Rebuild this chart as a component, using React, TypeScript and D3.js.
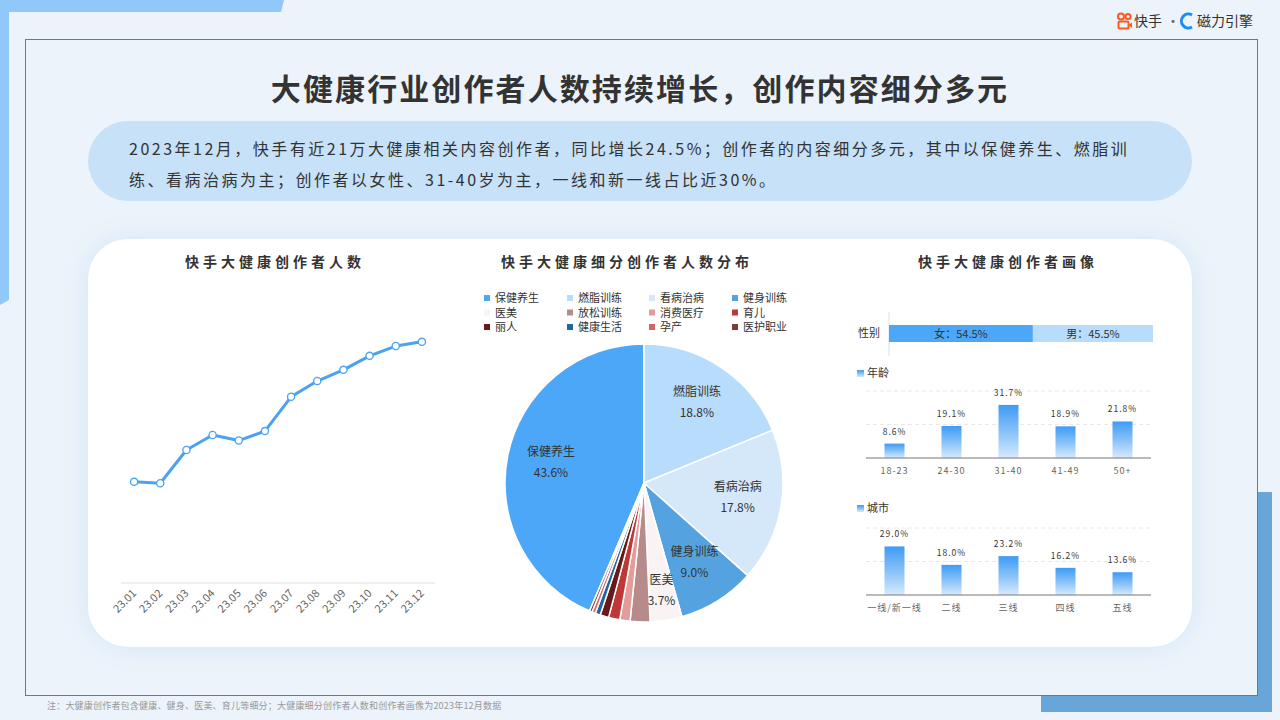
import React from 'react';
import * as d3 from 'd3';

const FONT = '"Noto Sans CJK SC","Noto Sans",sans-serif';

// ---- data ----
const months = ['23.01', '23.02', '23.03', '23.04', '23.05', '23.06', '23.07', '23.08', '23.09', '23.10', '23.11', '23.12'];
const creators = [16.89, 16.85, 17.8, 18.23, 18.07, 18.34, 19.32, 19.77, 20.09, 20.49, 20.77, 20.89];

const pieNames = ['保健养生', '燃脂训练', '看病治病', '健身训练', '医美', '放松训练', '消费医疗', '育儿', '丽人', '健康生活', '孕产', '医护职业'];
const pieValues = [43.6, 18.8, 17.8, 9.0, 3.7, 2.3, 1.2, 1.3, 1.0, 0.6, 0.4, 0.3];
const pieColors = ['#4DA7F8', '#B8DCFB', '#D5E8F9', '#54A3E0', '#FAF3F3', '#B88B8B', '#E29C9C', '#BF3838', '#6A1919', '#1F689E', '#D9616A', '#7A3B3B'];

const genderNames = ['女', '男'];
const genderValues = [54.5, 45.5];
const genderColors = ['#4DA7F8', '#B8DCFB'];

const ageCats = ['18-23', '24-30', '31-40', '41-49', '50+'];
const ageValues = [8.6, 19.1, 31.7, 18.9, 21.8];
const cityCats = ['一线/新一线', '二线', '三线', '四线', '五线'];
const cityValues = [29.0, 18.0, 23.2, 16.2, 13.6];
const barTicks = [20, 40];

const subtitle1 = '2023年12月，快手有近21万大健康相关内容创作者，同比增长24.5%；创作者的内容细分多元，其中以保健养生、燃脂训';
const subtitle2 = '练、看病治病为主；创作者以女性、31-40岁为主，一线和新一线占比近30%。';

function BarBlock({ cats, values, title, top, axisY }: { cats: string[]; values: number[]; title: string; top: number; axisY: number }) {
  const x = d3.scaleBand().domain(cats).range([866, 1151]);
  const y = d3.scaleLinear().domain([0, 40]).range([axisY, axisY - 67]);
  const bw = 20;
  return (
    <g>
      <rect x={857} y={top - 4} width={7} height={7} fill="url(#barGrad)" />
      <text x={867} y={top + 3} fontSize={11} fill="#333">{title}</text>
      {barTicks.map((t) => (
        <line key={t} x1={866} x2={1151} y1={y(t)} y2={y(t)} stroke="#E8E8E8" strokeDasharray="4,3" />
      ))}
      {values.map((v, i) => {
        const cx = x(cats[i])! + x.bandwidth() / 2;
        return (
          <g key={cats[i]}>
            <rect x={cx - bw / 2} y={y(v)} width={bw} height={axisY - y(v)} fill="url(#barGrad)" />
            <text x={cx} y={y(v) - 9} fontSize={8.5} letterSpacing={1} textAnchor="middle" fill="#333">{v.toFixed(1) + '%'}</text>
            <text x={cx} y={axisY + 16} fontSize={9} letterSpacing={1} textAnchor="middle" fill="#666">{cats[i]}</text>
          </g>
        );
      })}
      <line x1={866} x2={1151} y1={axisY} y2={axisY} stroke="#777" strokeWidth={1.2} />
    </g>
  );
}

export default function App() {
  // line chart
  const xl = d3.scaleBand().domain(months).range([121, 435]);
  const yl = d3.scaleLinear().domain([14, 21.6]).range([583, 317]);
  const px = (i: number) => xl(months[i])! + xl.bandwidth() / 2;
  const linePath = d3.line<number>().x((_, i) => px(i)).y((d) => yl(d))(creators) || '';

  // pie
  const total = d3.sum(pieValues);
  const start = -(pieValues[0] / total) * Math.PI * 2;
  const pie = d3.pie<number>().sort(null).startAngle(start).endAngle(start + Math.PI * 2);
  const arcs = pie(pieValues);
  const R = 139;
  const arc = d3.arc<d3.PieArcDatum<number>>().innerRadius(0).outerRadius(R);
  const labelArc = d3.arc<d3.PieArcDatum<number>>().innerRadius(95 * 2 - R).outerRadius(R);
  const smallLabelArc = d3.arc<d3.PieArcDatum<number>>().innerRadius(110 * 2 - R).outerRadius(R);
  const pcx = 644, pcy = 483;

  // gender
  const xg = d3.scaleLinear().domain([0, 100]).range([889, 1153]);
  let acc = 0;

  return (
    <svg width={1280} height={720} style={{ position: 'absolute', left: 0, top: 0, fontFamily: FONT }}>
      <defs>
        <linearGradient id="barGrad" x1="0" y1="0" x2="0" y2="1">
          <stop offset="0" stopColor="#3E9BF6" />
          <stop offset="0.55" stopColor="#8EC5F8" />
          <stop offset="1" stopColor="#D6EAFC" />
        </linearGradient>
        <filter id="shadow" x="-10%" y="-20%" width="120%" height="140%">
          <feGaussianBlur in="SourceAlpha" stdDeviation="12" result="b" />
          <feFlood floodColor="#CFE3F8" floodOpacity="0.9" />
          <feComposite in2="b" operator="in" result="s" />
          <feMerge><feMergeNode in="s" /><feMergeNode in="SourceGraphic" /></feMerge>
        </filter>
      </defs>

      {/* background */}
      <rect x={0} y={0} width={1280} height={720} fill="#ECF3FA" />
      <path d="M0,0 L284,0 L281,12 L9,12 L9,300 L0,305 Z" fill="#90C8FA" />
      <rect x={1041} y={492} width={231} height={220} fill="#68A6D9" />
      <rect x={25.5} y={39.5} width={1232} height={656} fill="#ECF3FA" stroke="#777" strokeWidth={1} />

      {/* logo */}
      <g>
        <circle cx={1121} cy={16.5} r={3} fill="none" stroke="#FE5A1E" strokeWidth={2} />
        <circle cx={1128} cy={16.5} r={2.6} fill="none" stroke="#FE5A1E" strokeWidth={2} />
        <rect x={1118.5} y={21.5} width={10} height={7} rx={1.5} fill="none" stroke="#FE5A1E" strokeWidth={2} />
        <path d="M1128.5,25 L1132,22.5 L1132,28 Z" fill="#FE5A1E" />
        <text x={1134} y={26} fontSize={14} fill="#333">快手</text>
        <text x={1166} y={26} fontSize={14} fill="#666">·</text>
        <path d="M1192,15 A7,7 0 1 0 1192,27" fill="none" stroke="#1E8CF0" strokeWidth={3} />
        <text x={1197} y={26} fontSize={14} fill="#333">磁力引擎</text>
      </g>

      {/* title */}
      <text x={640} y={100} fontSize={30} fontWeight={700} letterSpacing={2.1} textAnchor="middle" fill="#333">
        大健康行业创作者人数持续增长，创作内容细分多元
      </text>

      {/* subtitle pill */}
      <rect x={88} y={121} width={1104} height={80} rx={40} fill="#C6E1F8" />
      <text x={129} y={155} fontSize={16} letterSpacing={2.5} fill="#333">{subtitle1}</text>
      <text x={129} y={186} fontSize={16} letterSpacing={2.5} fill="#333">{subtitle2}</text>

      {/* white panel */}
      <rect x={88} y={239} width={1104} height={408} rx={40} fill="#FFFFFF" filter="url(#shadow)" />

      {/* panel titles */}
      <text x={275} y={267} fontSize={14} fontWeight={700} letterSpacing={4} textAnchor="middle" fill="#333">快手大健康创作者人数</text>
      <text x={627} y={267} fontSize={14} fontWeight={700} letterSpacing={4} textAnchor="middle" fill="#333">快手大健康细分创作者人数分布</text>
      <text x={1008} y={267} fontSize={14} fontWeight={700} letterSpacing={4} textAnchor="middle" fill="#333">快手大健康创作者画像</text>

      {/* line chart */}
      <line x1={121} x2={435} y1={583} y2={583} stroke="#E0E0E0" />
      <path d={linePath} fill="none" stroke="#4AA2F0" strokeWidth={3} strokeLinejoin="round" />
      {creators.map((d, i) => (
        <circle key={i} cx={px(i)} cy={yl(d)} r={3.6} fill="#fff" stroke="#4AA2F0" strokeWidth={1.3} />
      ))}
      {months.map((m, i) => (
        <text key={m} transform={`translate(${px(i) + 3},${594}) rotate(-45)`} fontSize={11} textAnchor="end" fill="#666">{m}</text>
      ))}

      {/* pie legend */}
      {pieNames.map((n, i) => {
        const col = i % 4, row = Math.floor(i / 4);
        const lx = [487, 570, 652, 735][col];
        const ly = 298 + row * 14.5;
        return (
          <g key={n}>
            <rect x={lx - 3} y={ly - 3} width={6} height={6} fill={pieColors[i]} />
            <text x={lx + 8} y={ly + 4} fontSize={11} fill="#333">{n}</text>
          </g>
        );
      })}

      {/* pie */}
      <g transform={`translate(${pcx},${pcy})`}>
        {arcs.map((a, i) => (
          <path key={i} d={arc(a) || ''} fill={pieColors[i]} stroke="#fff" strokeWidth={1.5} strokeLinejoin="round" />
        ))}
        {arcs.map((a, i) => {
          if (pieValues[i] < 3) return null;
          const [cx, cy] = (pieValues[i] < 5 ? smallLabelArc : labelArc).centroid(a);
          return (
            <g key={'l' + i}>
              <text x={cx} y={cy - 8} fontSize={12} textAnchor="middle" fill="#333">{pieNames[i]}</text>
              <text x={cx} y={cy + 13} fontSize={12} textAnchor="middle" fill="#333">{pieValues[i].toFixed(1) + '%'}</text>
            </g>
          );
        })}
      </g>

      {/* gender */}
      <text x={858} y={337} fontSize={11} fill="#333">性别</text>
      <line x1={889} x2={889} y1={312} y2={356} stroke="#E0E0E0" />
      {genderValues.map((v, i) => {
        const x0 = xg(acc);
        acc += v;
        const x1 = xg(acc);
        return (
          <g key={i}>
            <rect x={x0} y={325} width={x1 - x0} height={17} fill={genderColors[i]} />
            <text x={(x0 + x1) / 2} y={338} fontSize={11} textAnchor="middle" fill="#333">{`${genderNames[i]}：${v.toFixed(1)}%`}</text>
          </g>
        );
      })}

      <BarBlock cats={ageCats} values={ageValues} title="年龄" top={374} axisY={458} />
      <BarBlock cats={cityCats} values={cityValues} title="城市" top={509} axisY={595} />

      {/* footnote */}
      <text x={47} y={709} fontSize={9} letterSpacing={0.2} fill="#999">注：大健康创作者包含健康、健身、医美、育儿等细分；大健康细分创作者人数和创作者画像为2023年12月数据</text>
    </svg>
  );
}
